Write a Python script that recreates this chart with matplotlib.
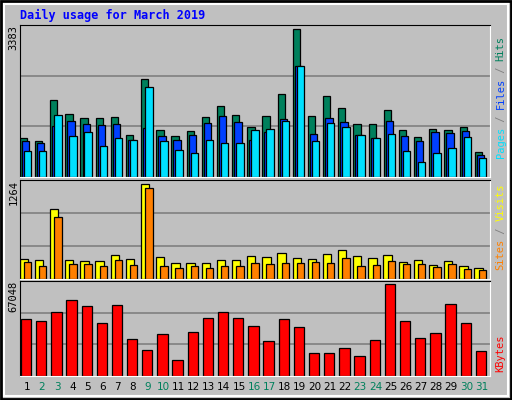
import matplotlib
matplotlib.use("Agg")
import matplotlib.pyplot as plt
import numpy as np
from matplotlib.patches import Rectangle

days = np.arange(1, 32)
weekend = [2, 3, 9, 10, 16, 17, 23, 24, 30, 31]

hits = [903, 834, 1753, 1454, 1362, 1362, 1385, 972, 2235, 1087, 949, 1064, 1385, 1615, 1431, 1156,
        1408, 1891, 3383, 1408, 1845, 1592, 1225, 1225, 1546, 1087, 926, 1110, 1087, 1156, 582]
files = [834, 788, 1179, 1294, 1225, 1202, 1225, 857, 1133, 949, 857, 972, 1248, 1408, 1271, 857,
         1041, 1339, 2533, 995, 1362, 1271, 972, 903, 1294, 949, 834, 1041, 1018, 1064, 513]
pages = [605, 605, 1431, 949, 1041, 719, 903, 857, 2051, 834, 628, 559, 857, 788, 788, 1087,
         1110, 1294, 2533, 834, 1248, 1156, 972, 903, 995, 605, 352, 559, 674, 926, 444]
visits = [265, 251, 935, 251, 237, 237, 319, 265, 1264, 292, 210, 210, 210, 251, 251, 306,
          292, 347, 278, 265, 333, 388, 306, 278, 319, 224, 251, 183, 237, 169, 141]
sites = [224, 169, 826, 196, 196, 169, 251, 183, 1209, 169, 141, 169, 141, 169, 169, 210,
         196, 210, 210, 224, 210, 278, 169, 183, 237, 196, 196, 155, 196, 128, 114]
kbytes = [41202, 39739, 46322, 55099, 50710, 38277, 51442, 27306, 19260, 30963, 11946, 32425,
          41934, 46322, 41934, 36082, 25843, 41202, 35351, 17066, 17066, 20723, 14872, 26574,
          67048, 39739, 28037, 31694, 52173, 38277, 18529]

BG = "#C0C0C0"
MONO = "DejaVu Sans Mono"

fig = plt.figure(figsize=(5.12, 4.0), dpi=100)
fig.patch.set_facecolor(BG)
# bevelled frame
fig.patches.append(Rectangle((0.002, 0.003), 0.996, 0.994, transform=fig.transFigure,
                             fill=False, edgecolor="black", linewidth=2))
fig.patches.append(Rectangle((0.008, 0.01), 0.984, 0.98, transform=fig.transFigure,
                             fill=False, edgecolor="white", linewidth=1.5))

fig.text(0.039, 0.962, "Daily usage for March 2019", color="#0000FF", fontsize=8.5,
         fontweight="bold", family=MONO, va="center")


def panel(rect, ymax):
    ax = fig.add_axes(rect)
    ax.set_facecolor(BG)
    ax.set_xlim(0.5, 31.5)
    ax.set_ylim(0, ymax)
    ax.set_xticks([])
    ax.set_yticks([ymax / 3, 2 * ymax / 3])
    ax.set_yticklabels([])
    ax.tick_params(length=0)
    ax.grid(axis="y", color="#808080", linewidth=1.2)
    ax.set_axisbelow(True)
    for s in ("left", "top"):
        ax.spines[s].set_color("black")
    for s in ("right", "bottom"):
        ax.spines[s].set_color("white")
    return ax


bar_kw = dict(edgecolor="black", linewidth=0.9)

ax1 = panel([0.039, 0.5575, 0.918, 0.38], 3383 * 151.5 / 147.2)
ax1.bar(days - 0.27, hits, 0.48, color="#00805C", **bar_kw)
ax1.bar(days - 0.13, files, 0.49, color="#0040FF", **bar_kw)
ax1.bar(days, pages, 0.49, color="#00E0FF", **bar_kw)

ax2 = panel([0.039, 0.3025, 0.918, 0.2475], 1264 * 288 / 277)
ax2.bar(days - 0.25, visits, 0.55, color="#FFFF00", **bar_kw)
ax2.bar(days, sites, 0.49, color="#FF8000", **bar_kw)

ax3 = panel([0.039, 0.06, 0.918, 0.2375], 67048 * 284 / 275)
ax3.bar(days - 0.1, kbytes, 0.68, color="#FF0000", **bar_kw)

for d in days:
    ax3.text(d - 0.05, -0.06, str(d), transform=ax3.get_xaxis_transform(), ha="center", va="top",
             fontsize=7.5, color="#00805C" if d in weekend else "black")

# max labels on the left
for y, label in ((0.937, "3383"), (0.55, "1264"), (0.297, "67048")):
    fig.text(0.027, y, label, rotation=90, ha="center", va="top", fontsize=7.5, family=MONO)


def right_label(y0, parts):
    y = y0
    for txt, col in parts:
        t = fig.text(0.978, y, txt, rotation=90, ha="center", va="bottom", fontsize=7.5,
                     family=MONO, color=col)
        y += len(txt) * 0.0152


right_label(0.605, [("Pages", "#00E0FF"), (" / ", "#808080"), ("Files", "#0040FF"),
                    (" / ", "#808080"), ("Hits", "#00805C")])
right_label(0.325, [("Sites", "#FF8000"), (" / ", "#808080"), ("Visits", "#FFFF00")])
right_label(0.07, [("KBytes", "#FF0000")])

fig.savefig("out.png", dpi=100, facecolor=BG)
